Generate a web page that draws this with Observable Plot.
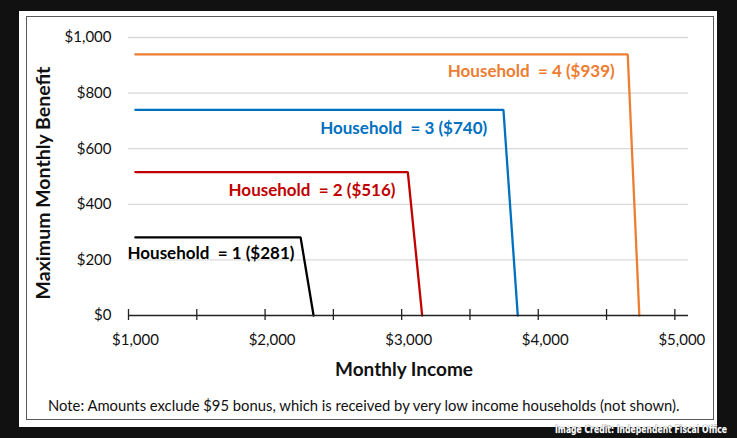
<!DOCTYPE html>
<html>
<head>
<meta charset="utf-8">
<script src="https://cdn.jsdelivr.net/npm/d3@7"></script>
<script src="https://cdn.jsdelivr.net/npm/@observablehq/plot@0.6"></script>
<style>
  html, body { margin: 0; padding: 0; }
  body { width: 737px; height: 438px; background: #111111; position: relative; overflow: hidden; font-family: Lato, "Open Sans", sans-serif; }
  #panel { position: absolute; left: 19px; top: 11px; width: 698px; height: 416px; background: #ffffff; }
  #border { position: absolute; left: 26px; top: 16px; width: 686px; height: 402px; border: 1.5px solid #5a5a5a; }
  #chart { position: absolute; left: 0; top: 0; }
  #ylabel { position: absolute; left: 42px; top: 183px; transform: translate(-50%, -50%) rotate(-90deg); white-space: nowrap; font-weight: bold; font-size: 19.5px; color: #111; }
  #xlabel { position: absolute; left: 404px; top: 368px; transform: translate(-50%, -50%); white-space: nowrap; font-weight: bold; font-size: 19px; color: #111; }
  #note { position: absolute; left: 48px; top: 396px; white-space: nowrap; font-size: 14.8px; color: #111; }
  #credit { position: absolute; left: 552px; top: 420px; overflow: visible; }
</style>
</head>
<body>
<div id="panel"></div>
<div id="border"></div>
<div id="chart"></div>
<div id="ylabel">Maximum Monthly Benefit</div>
<div id="xlabel">Monthly Income</div>
<div id="note">Note: Amounts exclude $95 bonus, which is received by very low income households (not shown).</div>
<svg id="credit" width="182" height="18"><text x="3" y="13" textLength="172" lengthAdjust="spacingAndGlyphs" font-family="'DejaVu Sans', sans-serif" font-weight="bold" font-size="10.5" fill="#ffffff" stroke="#444" stroke-width="0.6" paint-order="stroke">Image Credit: Independent Fiscal Office</text></svg>
<script>
// Series: household size, maximum benefit, income where phase-out starts, income where benefit reaches $0
const households = ["1", "2", "3", "4"];
const maxBenefit = [281, 516, 740, 939];
const startIncome = [1050, 1050, 1050, 1050];
const cliffStart = [2260, 3045, 3745, 4655];
const cliffEnd = [2355, 3150, 3850, 4740];
const seriesColors = ["#000000", "#c00000", "#0070c0", "#ed7d31"];

// Label text and where each label sits (data units, right end / vertical middle)
const labelText = ["Household\u00a0 = 1 ($281)", "Household\u00a0 = 2 ($516)", "Household\u00a0 = 3 ($740)", "Household\u00a0 = 4 ($939)"];
const labelIncome = [2215, 2955, 3626, 4560];
const labelBenefit = [224, 448, 671, 877];

// Axis ticks
const xTicks = [1000, 1500, 2000, 2500, 3000, 3500, 4000, 4500, 5000];
const xLabelTicks = [1000, 2000, 3000, 4000, 5000];
const yTicks = [0, 200, 400, 600, 800, 1000];

const lineData = households.flatMap((h, i) => [
  {hh: h, income: startIncome[i], benefit: maxBenefit[i]},
  {hh: h, income: cliffStart[i], benefit: maxBenefit[i]},
  {hh: h, income: cliffEnd[i], benefit: 0}
]);
const labels = households.map((h, i) => ({hh: h, text: labelText[i], income: labelIncome[i], benefit: labelBenefit[i]}));

const money = d => "$" + d3.format(",")(d);

const chart = Plot.plot({
  width: 737,
  height: 438,
  marginLeft: 128,
  marginRight: 49,
  marginTop: 37,
  marginBottom: 123,
  style: {background: "transparent", fontFamily: "Lato, 'Open Sans', sans-serif", color: "#111"},
  x: {domain: [1000, 5100]},
  y: {domain: [0, 1000]},
  color: {domain: households, range: seriesColors},
  marks: [
    Plot.gridY(yTicks.filter(d => d > 0), {stroke: "#d9d9d9", strokeOpacity: 1, strokeWidth: 1.3}),
    Plot.line(lineData, {x: "income", y: "benefit", z: "hh", stroke: "hh", strokeWidth: 2.3, strokeLinejoin: "miter"}),
    Plot.ruleY([0], {stroke: "#222", strokeWidth: 1.5}),
    Plot.axisX({ticks: xTicks, tickSize: 11, dy: -6, tickFormat: () => "", stroke: "#222", strokeWidth: 1.3, label: null}),
    Plot.axisX({ticks: xLabelTicks, tickSize: 0, tickPadding: 19, dx: 7, tickFormat: money, fontSize: 15, fill: "#111", label: null}),
    Plot.axisY({ticks: yTicks, tickSize: 0, tickPadding: 17, tickFormat: money, fontSize: 15, fill: "#111", label: null}),
    Plot.text(labels, {x: "income", y: "benefit", text: "text", fill: "hh", textAnchor: "end", fontWeight: "bold", fontSize: 17})
  ]
});
document.getElementById("chart").appendChild(chart);
</script>
</body>
</html>
